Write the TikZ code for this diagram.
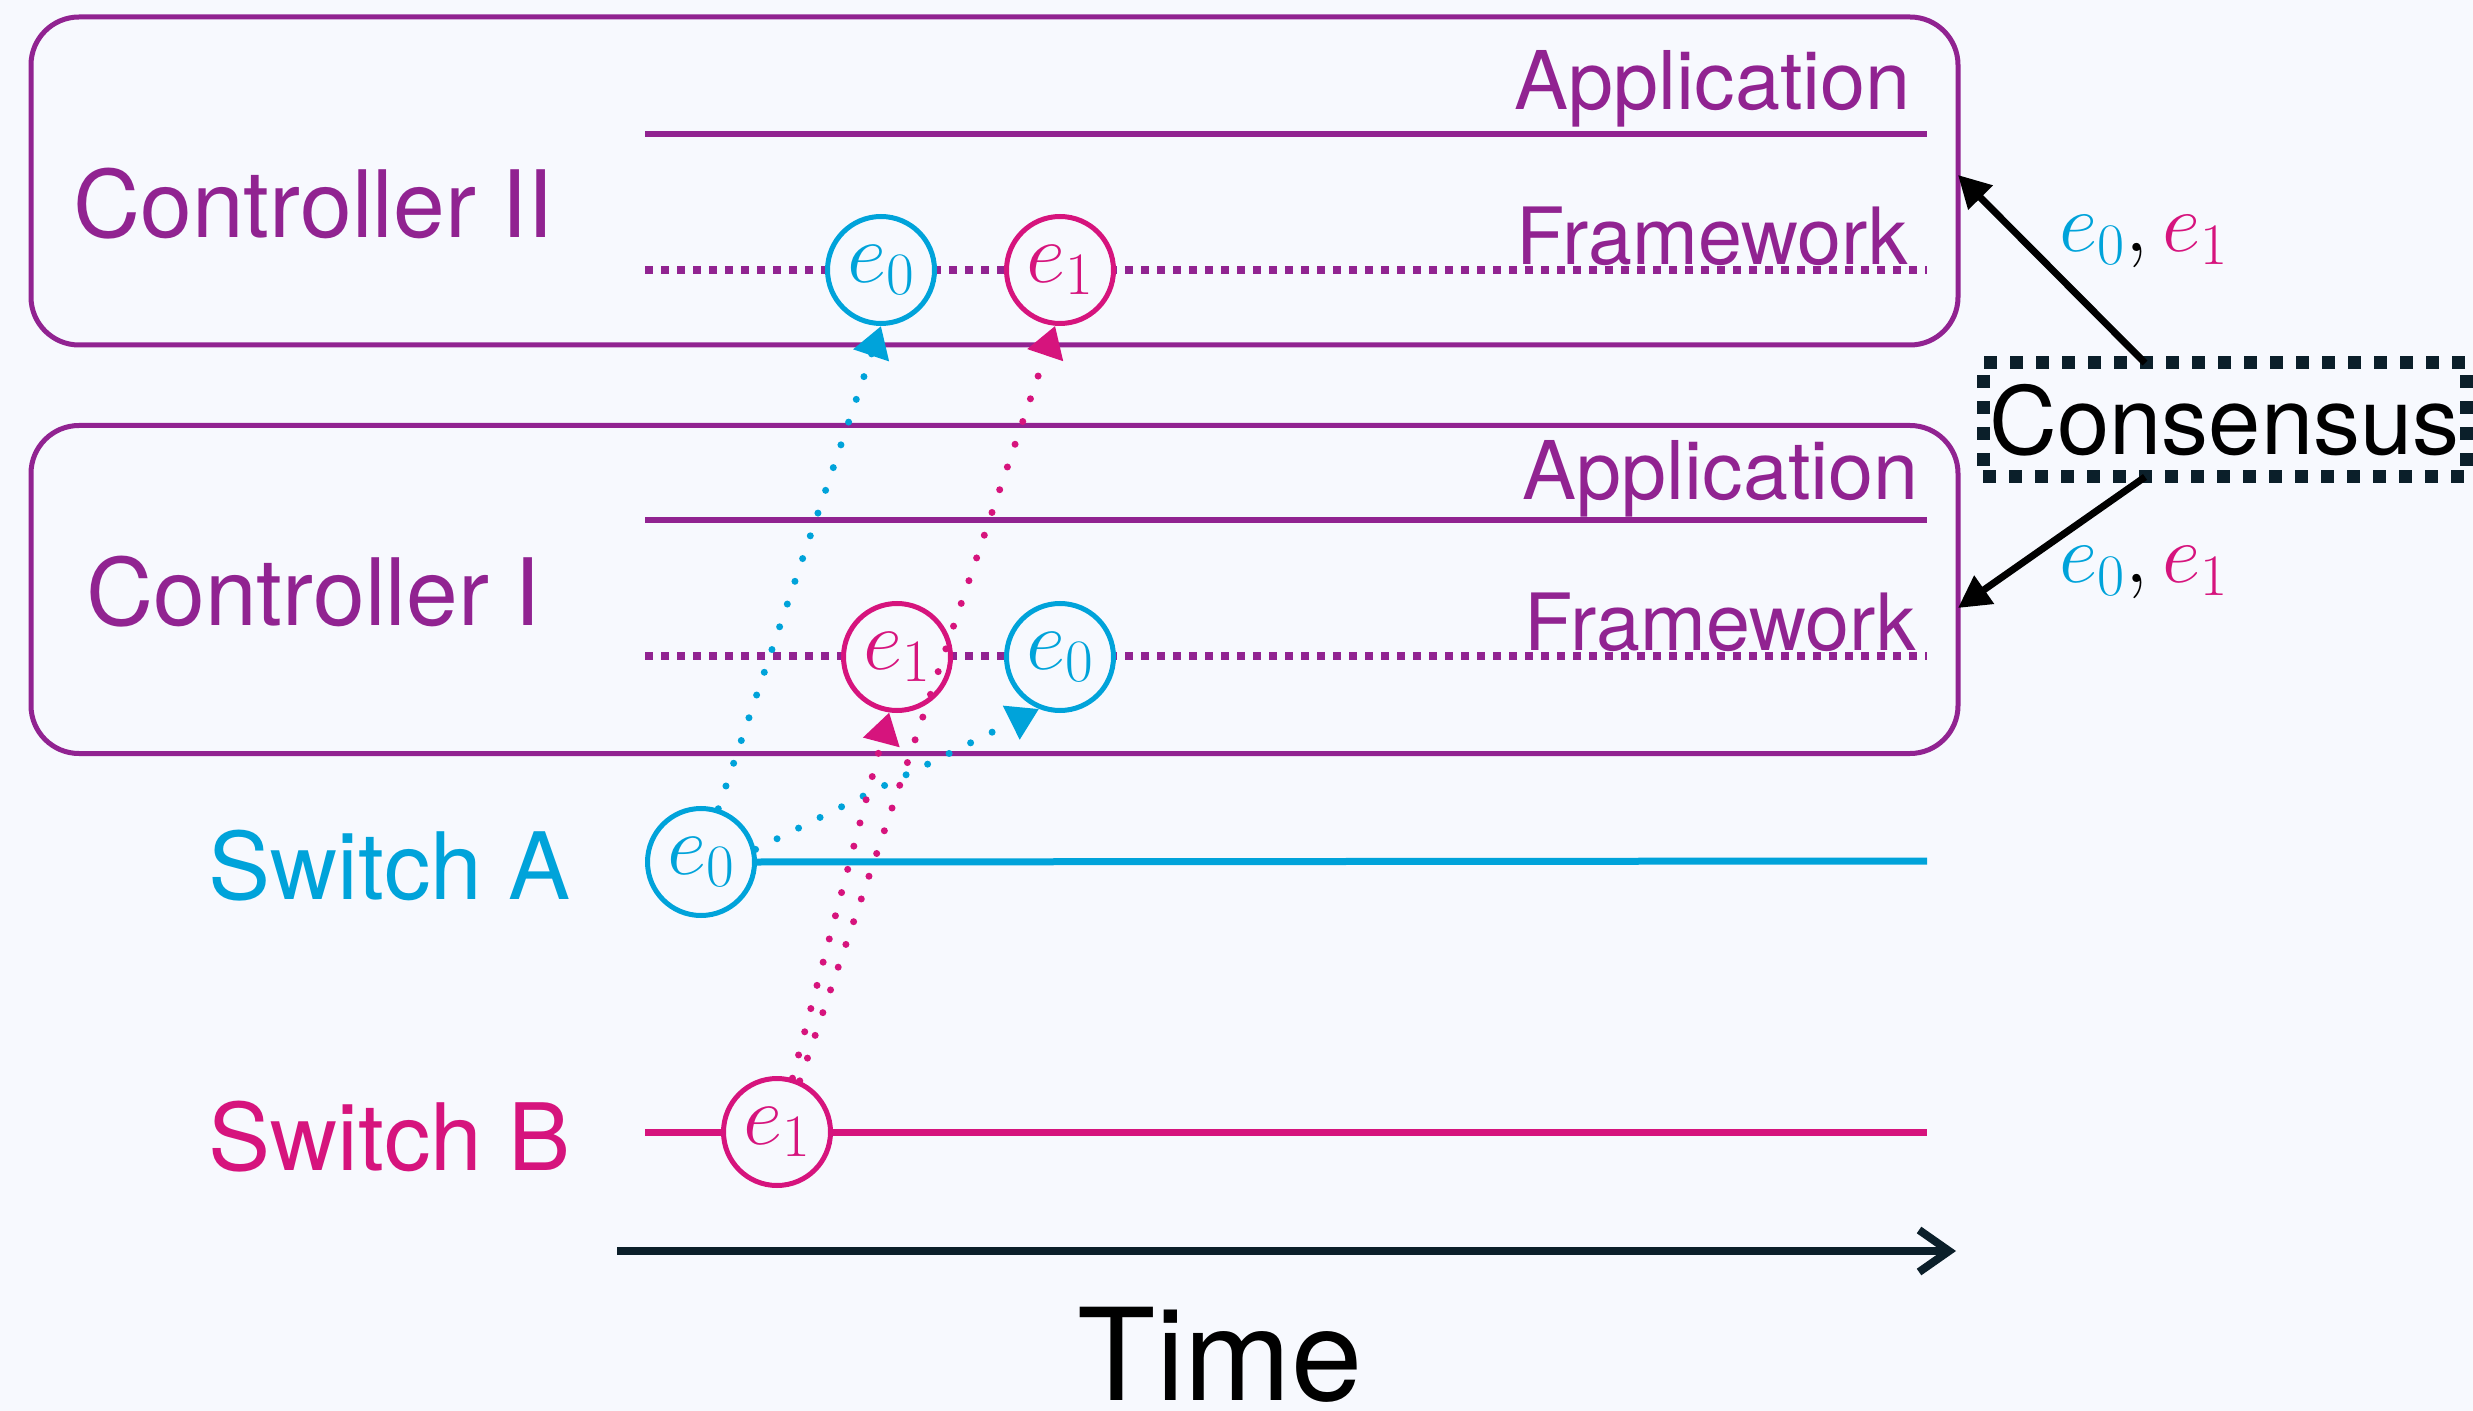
\documentclass[tikz,border=0pt]{standalone}
\usepackage{fix-cm}
\usepackage[no-math]{fontspec}
\setmainfont{TeX Gyre Heros}
\usetikzlibrary{arrows.meta}
\definecolor{bg}{RGB}{247,249,254}
\definecolor{ctrl}{RGB}{145,35,145}
\definecolor{swa}{RGB}{0,163,218}
\definecolor{swb}{RGB}{214,20,125}
\definecolor{ink}{RGB}{11,31,42}
\begin{document}
\begin{tikzpicture}[x=0.5pt,y=-0.5pt,
  ctrlbox/.style={draw=ctrl, line width=2.5pt, rounded corners=24pt,
    minimum width=963.5pt, minimum height=164pt, inner sep=0pt, outer sep=0pt},
  biglabel/.style={inner sep=0pt, font=\fontsize{46.5}{56}\selectfont},
  layerlabel/.style={inner sep=0pt, text=ctrl, anchor=base east, font=\fontsize{40.5}{48}\selectfont},
  appline/.style={draw=ctrl, line width=3pt},
  fwline/.style={draw=ctrl, line width=3.75pt, dash pattern=on 3.75pt off 4.25pt},
  swline/.style={draw=#1, line width=3.5pt},
  evt/.style={circle, draw=#1, text=#1, line width=2.5pt, fill=bg,
    minimum size=53.5pt, inner sep=0pt, font=\fontsize{43}{50}\selectfont},
  msg/.style={draw=#1, line width=3.5pt, line cap=round, dash pattern=on 0pt off 12pt,
    -{Triangle[length=15.5pt,width=18pt]}},
  consbox/.style={draw=ink, line width=6.5pt, dash pattern=on 6.5pt off 6.5pt,
    minimum width=241.5pt, minimum height=57pt, inner sep=0pt, outer sep=0pt,
    font=\fontsize{47}{56}\selectfont},
  conarrow/.style={draw=black, line width=3.5pt, -{Triangle[length=16pt,width=16.5pt]}},
  pairlabel/.style={inner sep=0pt, font=\fontsize{42}{50}\selectfont},
  timearrow/.style={draw=ink, line width=4pt, -{Straight Barb[length=15pt,width=21pt]}}
]
\fill[bg] (0,0) rectangle (2473,1411);
\useasboundingbox (0,0) rectangle (2473,1411);

% controller frames
\node[ctrlbox] (ctrlII) at (994.5,181) {};
\node[ctrlbox] (ctrlI) at (994.5,589.5) {};

% row labels
\node[biglabel, text=ctrl, anchor=base west] (lblII) at (73,238) {Controller II};
\node[biglabel, text=ctrl, anchor=base west] (lblI) at (86,625) {Controller I};
\node[biglabel, text=swa, anchor=base west] (lblA) at (208,899) {Switch A};
\node[biglabel, text=swb, anchor=base west] (lblB) at (208,1170) {Switch B};

% application and framework layers
\coordinate (appII-s) at (645,134);  \coordinate (appII-e) at (1927,134);
\coordinate (fwII-s) at (645,270);   \coordinate (fwII-e) at (1927,270);
\coordinate (appI-s) at (645,520);   \coordinate (appI-e) at (1927,520);
\coordinate (fwI-s) at (645,656);    \coordinate (fwI-e) at (1927,656);
\draw[appline] (appII-s) -- (appII-e);
\draw[fwline] (fwII-s) -- (fwII-e);
\draw[appline] (appI-s) -- (appI-e);
\draw[fwline] (fwI-s) -- (fwI-e);
\node[layerlabel] (appII) at (1911,110) {Application};
\node[layerlabel, font=\fontsize{39.5}{48}\selectfont] (fwII) at (1908,265) {Framework};
\node[layerlabel] (appI) at (1919,500) {Application};
\node[layerlabel, font=\fontsize{39.5}{48}\selectfont] (fwI) at (1916,650) {Framework};

% switch timelines
\coordinate (swA-e) at (1927,861);
\coordinate (swB-s) at (645,1132);  \coordinate (swB-e) at (1927,1132);
\draw[swline=swb] (swB-s) -- (swB-e);

% events
\node[evt=swa] (a0) at (701,862) {$e_0$};
\node[evt=swb] (b1) at (777,1132) {$e_1$};
\node[evt=swb] (c1e1) at (897,657) {$e_1$};
\node[evt=swa] (c1e0) at (1060,657) {$e_0$};
\node[evt=swa] (c2e0) at (881,270) {$e_0$};
\node[evt=swb] (c2e1) at (1060,270) {$e_1$};
\draw[swline=swa] (a0.east) -- (swA-e);

% event delivery
\draw[msg=swa] (a0.72) -- (c2e0.south);
\draw[msg=swa] (a0.13) -- (c1e0.248);
\draw[msg=swb] (b1.74) -- (c1e1.262);
\draw[msg=swb] (b1.66) -- (c2e1.265);

% consensus
\node[consbox] (cons) at (2224.5,420) {Consensus};
\draw[conarrow] ([xshift=-39.75pt]cons.north) -- ([yshift=3pt]ctrlII.east);
\draw[conarrow] ([xshift=-39.75pt]cons.south) -- ([yshift=-9.25pt]ctrlI.east);
\node[pairlabel] (pairII) at (2144,242) {$\textcolor{swa}{e_0},\textcolor{swb}{e_1}$};
\node[pairlabel] (pairI) at (2144,573) {$\textcolor{swa}{e_0},\textcolor{swb}{e_1}$};

% time axis
\coordinate (t0) at (617,1251);
\coordinate (t1) at (1956,1251);
\draw[timearrow] (t0) -- (t1);
\node[anchor=base, inner sep=0pt, font=\fontsize{64}{72}\selectfont] (time) at (1220,1400) {Time};
\end{tikzpicture}
\end{document}
